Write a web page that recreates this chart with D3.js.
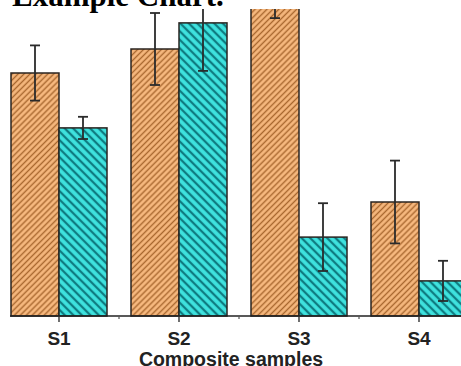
<!DOCTYPE html>
<html>
<head>
<meta charset="utf-8">
<script src="https://d3js.org/d3.v7.min.js"></script>
<style>
html,body{margin:0;padding:0;background:#fff;overflow:hidden;}
svg{display:block;}
</style>
</head>
<body>
<script>
const categories = ["S1", "S2", "S3", "S4"];
const seriesA = [81, 89, 112, 38];
const errA = [9.2, 12, 12.7, 13.8];
const seriesB = [62.7, 97.7, 26.3, 11.7];
const errB = [3.7, 16, 11.3, 6.7];
const titleText = "Example Chart.";
const xTitle = "Composite samples";

const W = 461, H = 366;
const svg = d3.select("body").append("svg").attr("width", W).attr("height", H);
const defs = svg.append("defs");

function hatch(id, bg, fg, size, sw, angle) {
  const p = defs.append("pattern").attr("id", id)
    .attr("patternUnits", "userSpaceOnUse")
    .attr("width", size).attr("height", size)
    .attr("patternTransform", `rotate(${angle})`);
  p.append("rect").attr("width", size).attr("height", size).attr("fill", bg);
  p.append("line").attr("x1", size / 2).attr("y1", 0).attr("x2", size / 2).attr("y2", size)
    .attr("stroke", fg).attr("stroke-width", sw);
}
hatch("hA", "#f6b87e", "#a9682f", 4.2, 1.4, 45);
hatch("hB", "#3fe3df", "#0f7b80", 6, 2.3, -45);

defs.append("clipPath").attr("id", "plotClip")
  .append("rect").attr("x", 0).attr("y", 9).attr("width", W).attr("height", H);

const x = d3.scaleBand().domain(categories).range([-1, 479]).paddingInner(0.2).paddingOuter(0.1);
const y = d3.scaleLinear().domain([0, 100]).range([316, 16]);
const bw = x.bandwidth() / 2;

const plot = svg.append("g").attr("clip-path", "url(#plotClip)");

const rows = categories.map((c, i) => ({c, a: seriesA[i], ea: errA[i], b: seriesB[i], eb: errB[i]}));

const series = [
  {key: "a", err: "ea", fill: "url(#hA)", off: 0},
  {key: "b", err: "eb", fill: "url(#hB)", off: 1}
];

series.forEach(s => {
  plot.selectAll(null).data(rows).enter().append("rect")
    .attr("x", d => x(d.c) + s.off * bw)
    .attr("y", d => y(d[s.key]))
    .attr("width", bw)
    .attr("height", d => y(0) - y(d[s.key]))
    .attr("fill", s.fill)
    .attr("stroke", "#2a2420")
    .attr("stroke-width", 1.5);
});

series.forEach(s => {
  const g = plot.selectAll(null).data(rows).enter().append("g")
    .attr("stroke", "#2b2b2b").attr("stroke-width", 1.8);
  const cx = d => x(d.c) + s.off * bw + bw / 2;
  g.append("line").attr("x1", cx).attr("x2", cx)
    .attr("y1", d => y(d[s.key] + d[s.err])).attr("y2", d => y(d[s.key] - d[s.err]));
  [1, -1].forEach(sg => {
    g.append("line").attr("x1", d => cx(d) - 5).attr("x2", d => cx(d) + 5)
      .attr("y1", d => y(d[s.key] + sg * d[s.err])).attr("y2", d => y(d[s.key] + sg * d[s.err]));
  });
});

// axis
const axisG = svg.append("g");
axisG.append("line").attr("x1", 10).attr("x2", W).attr("y1", y(0)).attr("y2", y(0))
  .attr("stroke", "#222").attr("stroke-width", 1.6);
axisG.selectAll(null).data(categories).enter().append("line")
  .attr("x1", d => x(d) + x.bandwidth() / 2).attr("x2", d => x(d) + x.bandwidth() / 2)
  .attr("y1", y(0)).attr("y2", y(0) + 6)
  .attr("stroke", "#333").attr("stroke-width", 1.4);
axisG.selectAll(null).data(categories.slice(0, -1)).enter().append("line")
  .attr("x1", d => x(d) + x.bandwidth() / 2 + x.step() / 2).attr("x2", d => x(d) + x.bandwidth() / 2 + x.step() / 2)
  .attr("y1", y(0)).attr("y2", y(0) + 3)
  .attr("stroke", "#555").attr("stroke-width", 1.2);
axisG.selectAll(null).data(categories).enter().append("text")
  .attr("x", d => x(d) + x.bandwidth() / 2).attr("y", 345)
  .attr("text-anchor", "middle")
  .attr("font-family", "Liberation Sans, Arial, sans-serif")
  .attr("font-weight", "bold").attr("font-size", 19).attr("fill", "#222")
  .text(d => d);

svg.append("text").attr("x", 231).attr("y", 365.5).attr("text-anchor", "middle")
  .attr("font-family", "Liberation Sans, Arial, sans-serif")
  .attr("font-weight", "bold").attr("font-size", 19.5).attr("fill", "#222")
  .text(xTitle);

svg.append("text").attr("x", 12).attr("y", 6).attr("text-anchor", "start")
  .attr("font-family", "Liberation Serif, Times New Roman, serif")
  .attr("font-weight", "bold").attr("font-size", 31).attr("fill", "#000")
  .text(titleText);
</script>
</body>
</html>
